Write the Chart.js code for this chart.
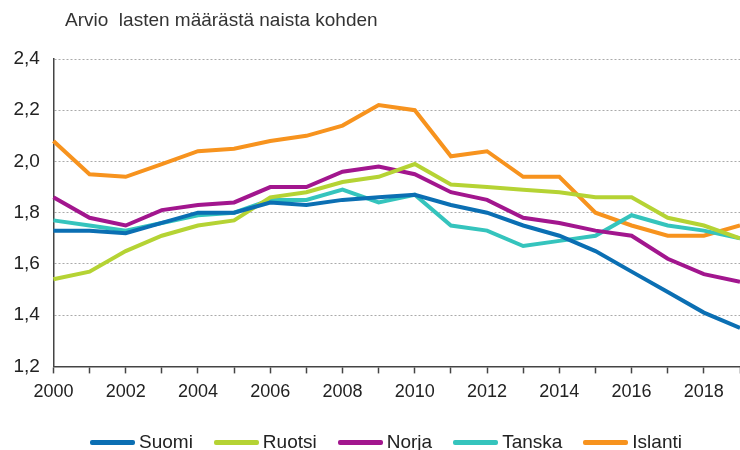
<!DOCTYPE html>
<html>
<head>
<meta charset="utf-8">
<script src="https://cdn.jsdelivr.net/npm/chart.js@4"></script>
<style>
    body { margin: 0; background: #fff; }
    #wrap { position: relative; width: 740px; height: 450px; font-family: "Liberation Sans", Arial, sans-serif; }
    #title { position: absolute; left: 65px; top: 9px; font-size: 19px; color: #333; white-space: pre; }
    #legend { position: absolute; left: 90px; top: 431px; display: flex; font-size: 19px; line-height: 22px; color: #222; }
    .item { display: flex; align-items: center; margin-right: 21px; }
    .bar { width: 45px; height: 5px; margin-right: 4px; border-radius: 2px; }
</style>
</head>
<body>
<div id="wrap">
    <canvas id="chart" width="740" height="450"></canvas>
    <div id="title">Arvio  lasten määrästä naista kohden</div>
    <div id="legend"></div>
</div>
<script>
// Years on the x axis
const years = ['2000', '2001', '2002', '2003', '2004', '2005', '2006', '2007', '2008', '2009',
    '2010', '2011', '2012', '2013', '2014', '2015', '2016', '2017', '2018', '2019'];

// Total fertility rate per country
const suomi = [1.73, 1.73, 1.72, 1.76, 1.80, 1.80, 1.84, 1.83, 1.85, 1.86,
    1.87, 1.83, 1.80, 1.75, 1.71, 1.65, 1.57, 1.49, 1.41, 1.35];
const ruotsi = [1.54, 1.57, 1.65, 1.71, 1.75, 1.77, 1.86, 1.88, 1.92, 1.94,
    1.99, 1.91, 1.90, 1.89, 1.88, 1.86, 1.86, 1.78, 1.75, 1.70];
const norja = [1.86, 1.78, 1.75, 1.81, 1.83, 1.84, 1.90, 1.90, 1.96, 1.98,
    1.95, 1.88, 1.85, 1.78, 1.76, 1.73, 1.71, 1.62, 1.56, 1.53];
const tanska = [1.77, 1.75, 1.73, 1.76, 1.79, 1.80, 1.85, 1.85, 1.89, 1.84,
    1.87, 1.75, 1.73, 1.67, 1.69, 1.71, 1.79, 1.75, 1.73, 1.70];
const islanti = [2.08, 1.95, 1.94, 1.99, 2.04, 2.05, 2.08, 2.10, 2.14, 2.22,
    2.20, 2.02, 2.04, 1.94, 1.94, 1.80, 1.75, 1.71, 1.71, 1.75];

const series = [
    { label: 'Suomi', data: suomi, color: '#0b6fb3' },
    { label: 'Ruotsi', data: ruotsi, color: '#b5d334' },
    { label: 'Norja', data: norja, color: '#a2168e' },
    { label: 'Tanska', data: tanska, color: '#35c4bd' },
    { label: 'Islanti', data: islanti, color: '#f7931e' }
];

// Build the legend below the chart
const legend = document.getElementById('legend');
legend.innerHTML = series.map(s => `
    <div class="item"><div class="bar" style="background:${s.color}"></div>${s.label}</div>
`).join('');

new Chart(document.getElementById('chart'), {
    type: 'line',
    data: {
        labels: years,
        datasets: series.map(s => ({
            label: s.label,
            data: s.data,
            borderColor: s.color,
            backgroundColor: s.color,
            borderWidth: 4,
            pointRadius: 0,
            tension: 0,
            fill: false
        }))
    },
    options: {
        responsive: false,
        animation: false,
        layout: { padding: { top: 59, right: 0, bottom: 39, left: 0 } },
        plugins: {
            legend: { display: false },
            tooltip: { enabled: false }
        },
        scales: {
            x: {
                offset: false,
                // let the plot run to the right edge like the original
                afterFit: scale => { scale.paddingRight = 0; },
                border: { color: '#444', width: 1.5 },
                grid: { drawOnChartArea: false, drawTicks: true, tickLength: 7, tickColor: '#444', tickWidth: 1.5 },
                ticks: {
                    autoSkip: false,
                    maxRotation: 0,
                    padding: 8,
                    color: '#222',
                    font: { family: 'Liberation Sans', size: 18 },
                    callback: (v, i) => (i % 2 === 0 ? years[i] : '')
                }
            },
            y: {
                min: 1.2,
                max: 2.4,
                border: { color: '#444', width: 1.5, dash: [2, 2] },
                grid: { color: '#aaa', drawTicks: false },
                ticks: {
                    stepSize: 0.2,
                    padding: 13.5,
                    color: '#222',
                    font: { family: 'Liberation Sans', size: 19 },
                    callback: v => v.toFixed(1).replace('.', ',')
                }
            }
        }
    }
});
</script>
</body>
</html>
